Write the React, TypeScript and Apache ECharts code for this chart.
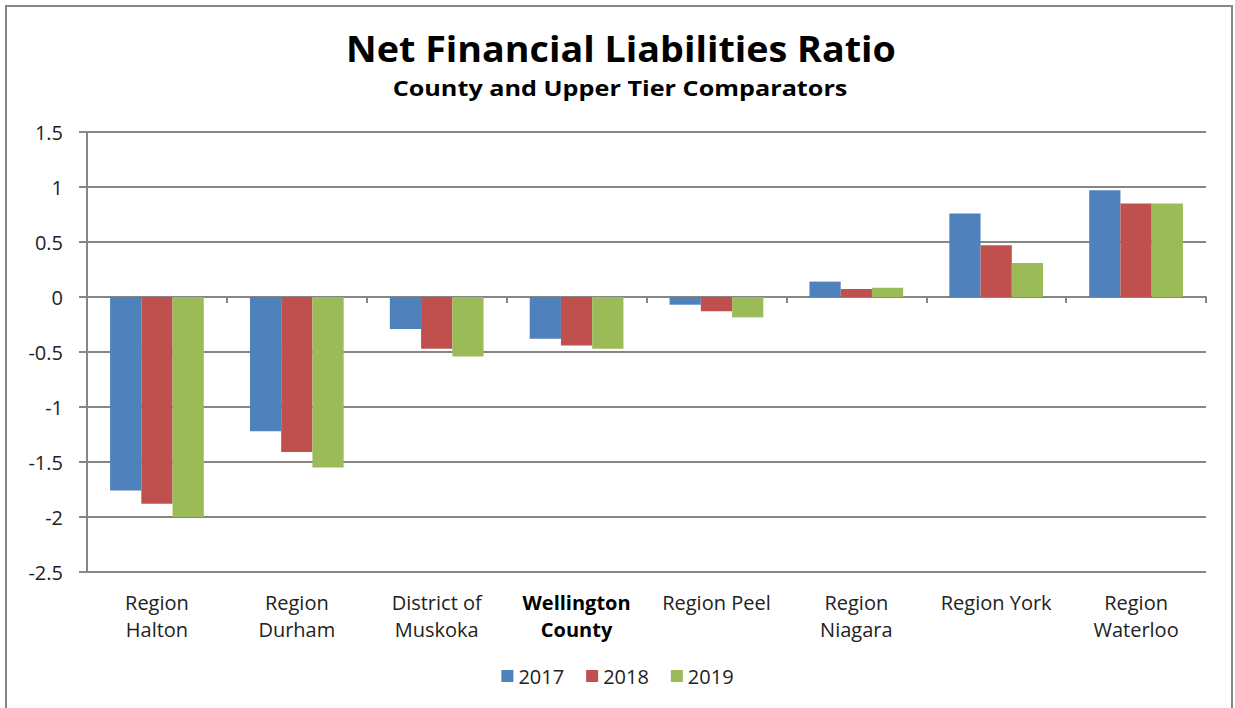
import React, { useEffect, useRef } from "react";
import * as echarts from "echarts";

const titleText = "Net Financial Liabilities Ratio";
const subtitleText = "County and Upper Tier Comparators";
const categories = [
  "Region\nHalton",
  "Region\nDurham",
  "District of\nMuskoka",
  "Wellington\nCounty",
  "Region Peel",
  "Region\nNiagara",
  "Region York",
  "Region\nWaterloo",
];
const boldCategory = "Wellington\nCounty";
const years = ["2017", "2018", "2019"];
const values2017 = [-1.76, -1.22, -0.29, -0.38, -0.07, 0.14, 0.76, 0.97];
const values2018 = [-1.88, -1.41, -0.47, -0.44, -0.13, 0.073, 0.47, 0.85];
const values2019 = [-2.0, -1.55, -0.54, -0.47, -0.185, 0.085, 0.31, 0.85];
const colors = ["#4F81BD", "#C0504D", "#9BBB59"];

const FONT = "'Open Sans', sans-serif";
const GREY = "#868686";

export default function App() {
  const ref = useRef<HTMLDivElement>(null);
  useEffect(() => {
    if (!ref.current) return;
    const chart = echarts.init(ref.current, null, { renderer: "svg" });
    const seriesData = [values2017, values2018, values2019];
    chart.setOption({
      animation: false,
      backgroundColor: "#ffffff",
      textStyle: { fontFamily: FONT },
      graphic: [
        {
          type: "rect",
          shape: { x: 6, y: 6, width: 1226, height: 720 },
          style: { fill: "none", stroke: GREY, lineWidth: 2 },
          silent: true,
          z: 100,
        },
        {
          type: "text",
          x: 621,
          y: 49,
          scaleX: 1.077,
          silent: true,
          style: {
            text: titleText,
            fontFamily: FONT,
            fontSize: 35,
            fontWeight: "bold",
            fill: "#000",
            align: "center",
            verticalAlign: "middle",
          },
        },
        {
          type: "text",
          x: 620,
          y: 88,
          scaleX: 1.146,
          silent: true,
          style: {
            text: subtitleText,
            fontFamily: FONT,
            fontSize: 22,
            fontWeight: "bold",
            fill: "#000",
            align: "center",
            verticalAlign: "middle",
          },
        },
      ],
      legend: {
        bottom: 17,
        left: "center",
        itemWidth: 12,
        itemHeight: 12,
        itemGap: 22,
        icon: "rect",
        textStyle: { fontFamily: FONT, fontSize: 20, color: "#222" },
        data: years,
      },
      grid: { left: 87, right: 29, top: 132, bottom: 136, containLabel: false },
      xAxis: [
        {
          type: "category",
          data: categories,
          position: "bottom",
          axisLine: { onZero: true, lineStyle: { color: GREY, width: 2 } },
          axisTick: { show: true, length: 6, lineStyle: { color: GREY, width: 2 } },
          axisLabel: { show: false },
        },
        {
          type: "category",
          data: categories,
          position: "bottom",
          axisLine: { show: false, onZero: false },
          axisTick: { show: false },
          axisLabel: {
            show: true,
            margin: 17,
            interval: 0,
            fontFamily: FONT,
            fontSize: 20,
            lineHeight: 27,
            color: "#222",
            formatter: (v: string) => (v === boldCategory ? `{b|${v}}` : v),
            rich: {
              b: { fontFamily: FONT, fontSize: 20, lineHeight: 27, fontWeight: "bold", color: "#000" },
            },
          },
        },
      ],
      yAxis: {
        type: "value",
        min: -2.5,
        max: 1.5,
        interval: 0.5,
        axisLine: { show: true, lineStyle: { color: GREY, width: 2 } },
        axisTick: { show: true, length: 8, lineStyle: { color: GREY, width: 2 } },
        axisLabel: { fontFamily: FONT, fontSize: 20, color: "#222", margin: 24 },
        splitLine: { show: true, lineStyle: { color: GREY, width: 2 } },
      },
      series: years.map((y, i) => ({
        name: y,
        type: "bar",
        data: seriesData[i],
        xAxisIndex: 0,
        barGap: "0%",
        barCategoryGap: "33%",
        itemStyle: { color: colors[i] },
      })),
    });
    return () => chart.dispose();
  }, []);
  return (
    <div
      ref={ref}
      style={{ position: "fixed", left: 0, top: 0, width: 1235, height: 708, background: "#fff" }}
    />
  );
}
